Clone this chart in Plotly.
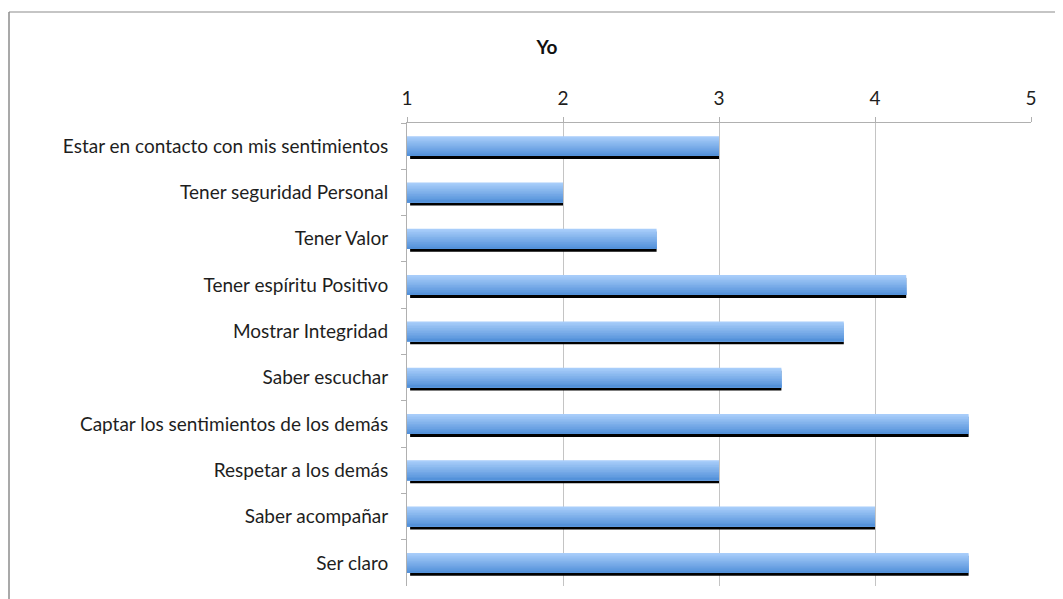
import plotly.graph_objects as go

categorias = [
    "Estar en contacto con mis sentimientos",
    "Tener seguridad Personal",
    "Tener Valor",
    "Tener espíritu Positivo",
    "Mostrar Integridad",
    "Saber escuchar",
    "Captar los sentimientos de los demás",
    "Respetar a los demás",
    "Saber acompañar",
    "Ser claro",
]
valores = [3, 2, 2.6, 4.2, 3.8, 3.4, 4.6, 3, 4, 4.6]
ticks_x = [1, 2, 3, 4, 5]

# la página añade 8px de margen al cuerpo: la figura cabe justo en la ventana
OFF = 8
W, H = 1063 - OFF, 599 - OFF
L, T = 407 - OFF, 123 - OFF
R = 1063 - 1031
B = 599 - 586
pw, ph = W - L - R, H - T - B

bar_w = 0.43
fuente = dict(family="Lato, 'Open Sans', sans-serif", size=19, color="#1e1e1e")

fig = go.Figure()

# sombra negra desplazada
fig.add_trace(
    go.Bar(
        y=categorias,
        x=[v - 1.02 for v in valores],
        base=[1.02] * len(valores),
        orientation="h",
        width=bar_w,
        offset=-bar_w / 2 + 0.065,
        marker=dict(color="#000000", line=dict(width=0)),
        hoverinfo="skip",
        showlegend=False,
    )
)

# degradado vertical: cada franja llega hasta el fondo de la barra
top = (168, 205, 250)
bot = (84, 146, 218)
n = 12
for i in range(n):
    t = i / (n - 1)
    c = tuple(round(top[k] + (bot[k] - top[k]) * t) for k in range(3))
    fig.add_trace(
        go.Bar(
            y=categorias,
            x=[v - 1 for v in valores],
            base=[1] * len(valores),
            orientation="h",
            width=bar_w - i * bar_w / n,
            offset=-bar_w / 2 + i * bar_w / n,
            marker=dict(color="rgb(%d,%d,%d)" % c, line=dict(width=0)),
            hoverinfo="skip",
            showlegend=False,
        )
    )

# borde exterior del gráfico (el borde izquierdo queda en el límite del svg)
x0 = (1 - L) / pw
y_top = 1 + (123 - 12) / ph
fig.add_shape(type="line", xref="paper", yref="paper", x0=x0, x1=x0, y0=-0.2, y1=y_top,
              line=dict(color="#8c8c8c", width=1.5))
fig.add_shape(type="line", xref="paper", yref="paper", x0=x0, x1=1.2, y0=y_top, y1=y_top,
              line=dict(color="#8c8c8c", width=1.2))

fig.update_layout(
    width=W,
    height=H,
    barmode="overlay",
    plot_bgcolor="white",
    paper_bgcolor="white",
    margin=dict(l=L, t=T, r=R, b=B),
    font=fuente,
    title=dict(
        text="<b>Yo</b>",
        x=(547 - OFF) / W,
        xref="container",
        xanchor="center",
        y=1 - (47 - OFF) / H,
        yref="container",
        yanchor="middle",
        font=dict(family="Lato, 'Open Sans', sans-serif", size=19, color="#111"),
    ),
)

fig.update_xaxes(
    range=[1, 5],
    side="top",
    tickvals=ticks_x,
    showgrid=True,
    gridcolor="#c4c4c4",
    gridwidth=1,
    showline=True,
    linecolor="#b0b0b0",
    ticks="outside",
    ticklen=5,
    tickcolor="#b0b0b0",
    zeroline=False,
    ticklabelstandoff=4,
    tickfont=fuente,
)

fig.update_yaxes(
    autorange="reversed",
    showgrid=False,
    showline=True,
    linecolor="#b0b0b0",
    ticks="outside",
    tickson="boundaries",
    ticklen=5,
    tickcolor="#b0b0b0",
    ticklabelstandoff=14,
    tickfont=fuente,
)

fig.write_html("out.html")
